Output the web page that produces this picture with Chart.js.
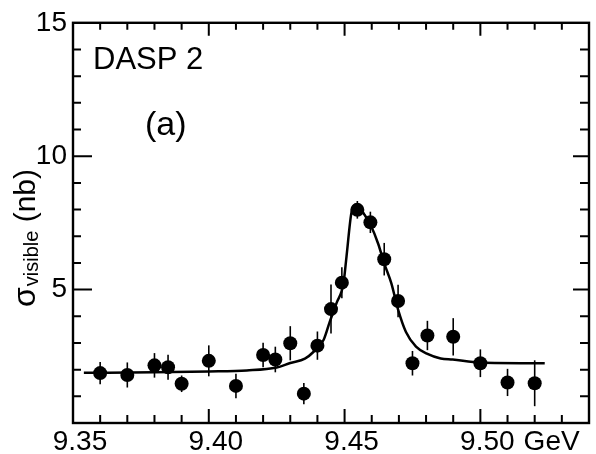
<!DOCTYPE html>
<html>
<head>
<meta charset="utf-8">
<script src="https://cdn.jsdelivr.net/npm/chart.js@4.4.1/dist/chart.umd.min.js"></script>
<style>
  html, body { margin: 0; padding: 0; background: #fff; }
  #wrap { width: 596px; height: 454px; }
</style>
</head>
<body>
<div id="wrap"><canvas id="chart" width="596" height="454"></canvas></div>
<script>
// measured points (GeV, nb) with their error bars
const ENERGY = [9.360, 9.370, 9.380, 9.385, 9.390, 9.400, 9.410, 9.420, 9.4245, 9.430, 9.435, 9.440,
  9.445, 9.449, 9.4547, 9.4595, 9.4646, 9.4697, 9.475, 9.4805, 9.490, 9.500, 9.510, 9.520];
const SIGMA = [1.87, 1.80, 2.16, 2.09, 1.47, 2.33, 1.39, 2.55, 2.38, 2.99, 1.10, 2.90,
  4.27, 5.26, 7.99, 7.52, 6.14, 4.57, 2.24, 3.28, 3.23, 2.24, 1.52, 1.49];
const SIGMA_ERR = [0.42, 0.47, 0.46, 0.47, 0.31, 0.58, 0.46, 0.46, 0.48, 0.64, 0.40, 0.53,
  0.92, 0.58, 0.33, 0.40, 0.61, 0.61, 0.46, 0.55, 0.70, 0.52, 0.51, 0.86];

// fitted curve
const FIT_E = [9.354, 9.380, 9.400, 9.414, 9.425, 9.430, 9.4354, 9.4387, 9.4423, 9.4445, 9.4471,
  9.4496, 9.4507, 9.4526, 9.4544, 9.4573, 9.4595, 9.4624, 9.4646, 9.4672, 9.4697, 9.4726,
  9.4763, 9.4803, 9.4854, 9.4898, 9.500, 9.5237];
const FIT_SIGMA = [1.88, 1.90, 1.93, 1.97, 2.08, 2.25, 2.41, 2.68, 3.12, 3.78, 4.51,
  5.24, 6.23, 7.92, 8.18, 7.81, 7.44, 6.71, 5.98, 5.24, 4.25, 3.41,
  2.86, 2.60, 2.42, 2.38, 2.27, 2.24];

const X_TICKS = [9.35, 9.40, 9.45, 9.50];
const X_LABELS = ["9.35", "9.40", "9.45", "9.50"];
const Y_TICKS = [5, 10, 15];
const Y_LABELS = ["5", "10", "15"];

const FONT = '"Liberation Sans", Arial, sans-serif';
const X_PAD = 2;
const X_LABEL_OFFSET = 7;
const X_FONT_SIZE = 28;

const errorBars = {
  id: "errorBars",
  afterDatasetsDraw(chart) {
    const { ctx, scales: { y } } = chart;
    const meta = chart.getDatasetMeta(0);
    ctx.save();
    ctx.strokeStyle = "#000";
    ctx.lineWidth = 1.6;
    meta.data.forEach((pt, i) => {
      ctx.beginPath();
      ctx.moveTo(pt.x, y.getPixelForValue(SIGMA[i] - SIGMA_ERR[i]));
      ctx.lineTo(pt.x, y.getPixelForValue(SIGMA[i] + SIGMA_ERR[i]));
      ctx.stroke();
    });
    ctx.restore();
  },
};

// frame with inward ticks on all four sides, plus the text bits
const frame = {
  id: "frame",
  afterDraw(chart) {
    const { ctx, chartArea: a, scales: { x, y } } = chart;
    ctx.save();
    ctx.strokeStyle = "#000";
    ctx.fillStyle = "#000";
    ctx.lineWidth = 2.4;
    ctx.strokeRect(a.left, a.top, a.right - a.left, a.bottom - a.top);

    ctx.lineWidth = 2;
    ctx.beginPath();
    for (let k = 1; k * 0.01 < x.max - x.min; k++) {
      const v = x.min + k * 0.01;
      const px = x.getPixelForValue(v);
      const major = k % 5 === 0;
      ctx.moveTo(px, a.bottom);
      ctx.lineTo(px, a.bottom - (major ? 14 : 8));
      ctx.moveTo(px, a.top);
      ctx.lineTo(px, a.top + (major ? 13 : 7));
    }
    for (let v = 1; v < y.max; v++) {
      const py = y.getPixelForValue(v);
      const major = v % 5 === 0;
      ctx.moveTo(a.left, py);
      ctx.lineTo(a.left + (major ? 19 : 8), py);
      ctx.moveTo(a.right, py);
      ctx.lineTo(a.right - (major ? 16 : 9), py);
    }
    ctx.stroke();

    // unit after the last x label
    ctx.font = `${X_FONT_SIZE}px ${FONT}`;
    ctx.textBaseline = "middle";
    ctx.textAlign = "left";
    const last = X_TICKS[X_TICKS.length - 1];
    const w = ctx.measureText(X_LABELS[X_LABELS.length - 1]).width;
    ctx.fillText("GeV", x.getPixelForValue(last) + X_LABEL_OFFSET + w / 2 + 9,
      x.top + X_PAD + (X_FONT_SIZE * 1.2) / 2);

    ctx.textBaseline = "alphabetic";
    ctx.font = `31px ${FONT}`;
    ctx.fillText("DASP 2", a.left + 20, a.top + 46);
    ctx.font = `34px ${FONT}`;
    ctx.fillText("(a)", a.left + 72, a.top + 112);

    // y title with subscript, rotated
    ctx.translate(35, 307);
    ctx.rotate(-Math.PI / 2);
    let pos = 0;
    ctx.font = `32px ${FONT}`;
    ctx.fillText("σ", pos, 0);
    pos += ctx.measureText("σ").width + 1;
    ctx.font = `20px ${FONT}`;
    ctx.fillText("visible", pos, 3);
    pos += ctx.measureText("visible").width;
    ctx.font = `30px ${FONT}`;
    ctx.fillText(" (nb)", pos, 0);
    ctx.restore();
  },
};

new Chart(document.getElementById("chart"), {
  type: "scatter",
  data: {
    datasets: [
      {
        label: "DASP 2",
        data: ENERGY.map((e, i) => ({ x: e, y: SIGMA[i] })),
        pointRadius: 7,
        pointBackgroundColor: "#000",
        pointBorderWidth: 0,
        showLine: false,
        order: 0,
      },
      {
        label: "fit",
        type: "line",
        data: FIT_E.map((e, i) => ({ x: e, y: FIT_SIGMA[i] })),
        borderColor: "#000",
        borderWidth: 2.5,
        pointRadius: 0,
        cubicInterpolationMode: "monotone",
        fill: false,
        order: 1,
      },
    ],
  },
  options: {
    responsive: false,
    animation: false,
    devicePixelRatio: 1,
    layout: { padding: { top: 14, right: 1, left: 0, bottom: 0 } },
    plugins: { legend: { display: false }, tooltip: { enabled: false } },
    scales: {
      x: {
        type: "linear",
        min: 9.35,
        max: 9.54,
        afterFit: (s) => { s.height = 31; },
        afterBuildTicks: (s) => { s.ticks = X_TICKS.map((v) => ({ value: v })); },
        grid: { display: false, drawTicks: false },
        border: { display: false },
        ticks: {
          color: "#000",
          padding: X_PAD,
          labelOffset: X_LABEL_OFFSET,
          maxRotation: 0,
          autoSkip: false,
          font: { family: FONT, size: X_FONT_SIZE },
          callback: (v, i) => X_LABELS[i],
        },
      },
      y: {
        min: 0,
        max: 15,
        afterFit: (s) => { s.width = 73; },
        afterBuildTicks: (s) => { s.ticks = Y_TICKS.map((v) => ({ value: v })); },
        grid: { display: false, drawTicks: false },
        border: { display: false },
        ticks: {
          color: "#000",
          padding: 6,
          font: { family: FONT, size: 28 },
          callback: (v, i) => Y_LABELS[i],
        },
      },
    },
  },
  plugins: [errorBars, frame],
});
</script>
</body>
</html>
